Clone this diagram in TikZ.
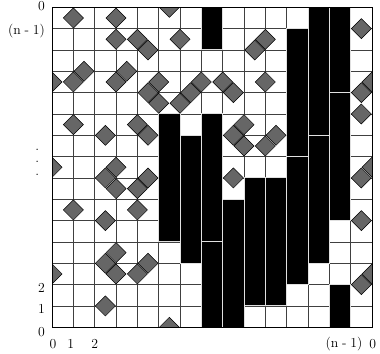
\documentclass[tikz,border=0pt]{standalone}
\usepackage{tikz}
\tikzset{
  rod/.style={fill=black, draw=black!12, line width=0.8pt},
  tile/.style={fill=black!60, draw=black, line width=0.4pt},
  lab/.style={inner sep=0pt, font=\fontsize{11}{13}\selectfont}
}
\newcommand{\tileat}[2]{%
  \draw[tile] (#1,#2) +(-0.47,0) -- +(0,0.47) -- +(0.47,0) -- +(0,-0.47) -- cycle;}

\begin{document}
\begin{tikzpicture}[x=0.6cm,y=0.6cm]
  \path[use as bounding box, fill=white] (-2.44,-1.25) rectangle (15.375,15.344);
  % 15x15 lattice, row 0 on top
  \draw[black!75, line width=0.5pt, step=1] (0,0) grid (15,15);
  % black rods: column / first row / last row
  \foreach \c/\a/\b in {5/5/10, 6/6/11, 7/0/1, 7/5/10, 7/11/14, 8/9/14, 9/8/13,
      10/8/13, 11/1/6, 11/7/12, 12/0/5, 12/6/11, 13/0/3, 13/4/9, 13/13/14}
    \draw[rod] (\c,14-\b) rectangle (\c+1,15-\a);
  % grey tiles (periodic, so clip at the border)
  \begin{scope}
    \clip (0,0) rectangle (15,15);
    % on vertical edges: edge / row
    \foreach \i/\r in {1/0, 3/0, 3/1, 4/1, 6/1, 10/1, 0/3, 1/3, 3/3, 5/3, 7/3,
        8/3, 10/3, 15/3, 5/4, 6/4, 1/5, 4/5, 9/5, 9/6, 10/6, 0/7, 3/7, 15/7,
        3/8, 4/8, 1/9, 4/9, 3/11, 0/12, 3/12, 4/12, 15/12} {
      \tileat{\i}{14.5-\r}
    }
    % on horizontal edges: column / edge
    \foreach \c/\j in {5/0, 5/15, 14/1, 4/2, 9/2, 1/3, 3/3, 4/4, 6/4, 8/4, 14/4,
        14/5, 2/6, 4/6, 8/6, 10/6, 2/8, 4/8, 8/8, 14/8, 2/10, 14/10, 2/12, 4/12,
        14/13, 2/14} {
      \tileat{\c+0.5}{15-\j}
    }
  \end{scope}
  \draw[line width=0.6pt] (0,0) rectangle (15,15);
  % row labels
  \foreach \yy/\lab [count=\k] in {15.07/0, 13.9/{(n\hspace{3pt}-\hspace{3pt}1)},
      1.83/2, 0.84/1, -0.21/0}
    \node[lab, anchor=east] (row\k) at (-0.33,\yy) {\lab};
  \foreach \yy [count=\k] in {8.33,7.75,7.16}
    \node[lab] (dot\k) at (-0.69,\yy) {.};
  % column labels
  \foreach \xx/\lab [count=\k] in {0.05/0, 0.88/1, 2.0/2,
      13.69/{(n\hspace{3pt}-\hspace{3pt}1)}, 15.03/0}
    \node[lab] (col\k) at (\xx,-0.78) {\lab};
\end{tikzpicture}
\end{document}
